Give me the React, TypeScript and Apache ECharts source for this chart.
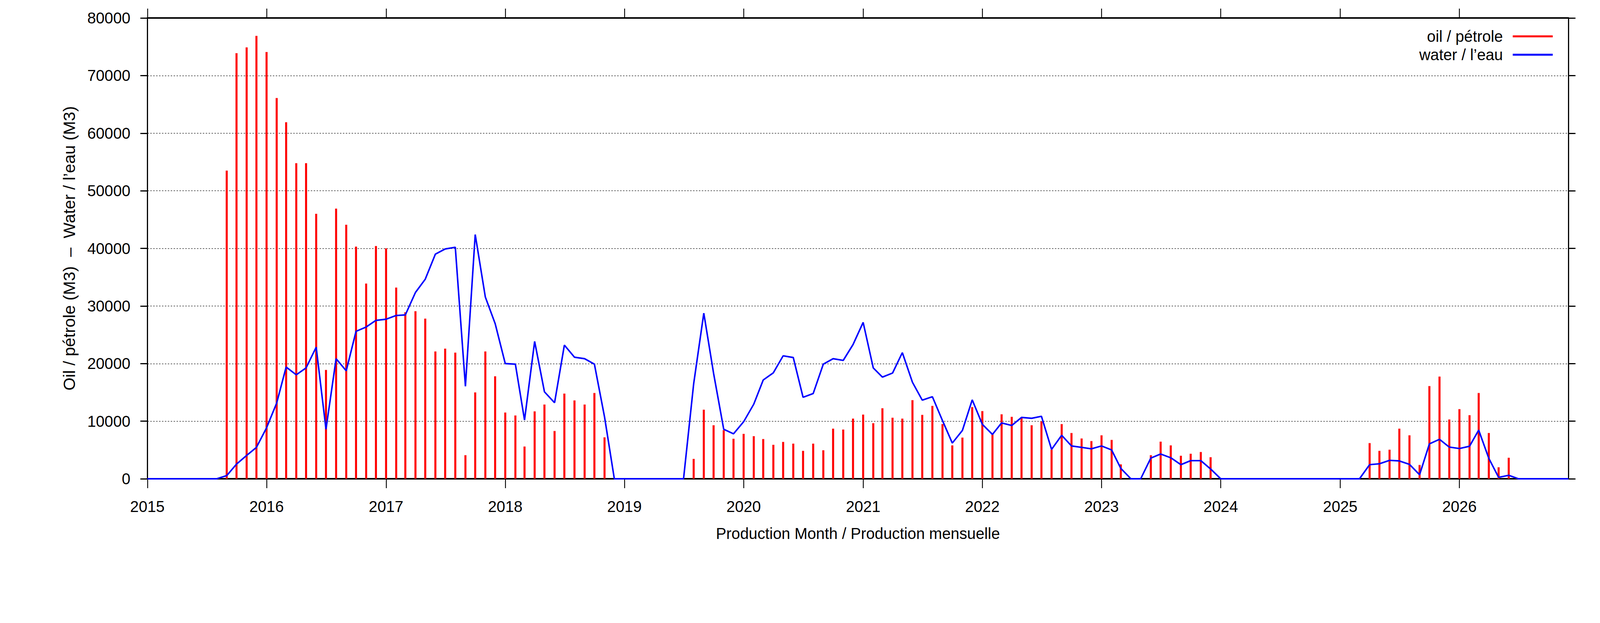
import React, { useEffect, useRef } from "react";
import * as echarts from "echarts";

// ---- Data ----
const START_YEAR = 2015;
const yearTicks = [2015, 2016, 2017, 2018, 2019, 2020, 2021, 2022, 2023, 2024, 2025, 2026];

// Monthly oil production (M3), Jan..Dec
const oil2015 = [0, 0, 0, 0, 0, 0, 0, 0, 53500, 73900, 74900, 76900];
const oil2016 = [74100, 66100, 61900, 54800, 54800, 46000, 18900, 46900, 44100, 40300, 33900, 40400];
const oil2017 = [40000, 33200, 28900, 29100, 27800, 22100, 22600, 21900, 4100, 15000, 22100, 17800];
const oil2018 = [11500, 11000, 5600, 11700, 12900, 8300, 14800, 13600, 12900, 14900, 7200, 0];
const oil2019 = [0, 0, 0, 0, 0, 0, 0, 3450, 12000, 9300, 8450, 6950];
const oil2020 = [7800, 7400, 6900, 5900, 6400, 6100, 4850, 6100, 4950, 8700, 8550, 10450];
const oil2021 = [11150, 9650, 12250, 10600, 10450, 13650, 11100, 12650, 9500, 5800, 7150, 12450];
const oil2022 = [11750, 7700, 11200, 10750, 10700, 9300, 9950, 5050, 9500, 7950, 7000, 6550];
const oil2023 = [7550, 6750, 2500, 0, 0, 4100, 6450, 5800, 4000, 4350, 4650, 3750];
const oil2024 = [0, 0, 0, 0, 0, 0, 0, 0, 0, 0, 0, 0];
const oil2025 = [0, 0, 0, 6200, 4850, 5050, 8700, 7550, 2400, 16100, 17750, 10300];
const oil2026 = [12100, 11050, 14900, 7950, 2000, 3650, 0, 0, 0, 0, 0, 0];

// Monthly water production (M3), Jan..Dec
const water2015 = [0, 0, 0, 0, 0, 0, 0, 0, 550, 2550, 4050, 5450];
const water2016 = [8850, 13150, 19400, 18050, 19250, 22850, 8600, 20850, 18750, 25600, 26350, 27500];
const water2017 = [27700, 28350, 28450, 32350, 34650, 39000, 39900, 40200, 16050, 42400, 31550, 26950];
const water2018 = [20000, 19900, 10200, 23850, 15100, 13200, 23200, 21100, 20850, 19900, 10750, 0];
const water2019 = [0, 0, 0, 0, 0, 0, 0, 16500, 28750, 18300, 8600, 7800];
const water2020 = [9900, 12950, 17150, 18400, 21350, 21050, 14150, 14800, 19900, 20850, 20550, 23300];
const water2021 = [27150, 19250, 17650, 18350, 21900, 16750, 13650, 14250, 10100, 6200, 8400, 13700];
const water2022 = [9450, 7700, 9700, 9250, 10650, 10500, 10850, 5100, 7550, 5700, 5450, 5200];
const water2023 = [5700, 5000, 1800, 0, 0, 3600, 4300, 3650, 2450, 3150, 3150, 1700];
const water2024 = [0, 0, 0, 0, 0, 0, 0, 0, 0, 0, 0, 0];
const water2025 = [0, 0, 0, 2450, 2600, 3200, 3100, 2500, 700, 6050, 6850, 5500];
const water2026 = [5250, 5650, 8450, 3550, 250, 600, 0, 0, 0, 0, 0, 0];

const oilValues = [
  ...oil2015, ...oil2016, ...oil2017, ...oil2018, ...oil2019, ...oil2020,
  ...oil2021, ...oil2022, ...oil2023, ...oil2024, ...oil2025, ...oil2026,
];
const waterValues = [
  ...water2015, ...water2016, ...water2017, ...water2018, ...water2019, ...water2020,
  ...water2021, ...water2022, ...water2023, ...water2024, ...water2025, ...water2026,
];

const oilName = "oil / pétrole";
const waterName = "water / l’eau";
const xTitle = "Production Month / Production mensuelle";
const yTitle = "Oil / pétrole (M3)  –  Water / l’eau (M3)";

const FONT = "'Liberation Sans', Arial, Helvetica, sans-serif";
const DESIGN_WIDTH = 5483;
const DESIGN_HEIGHT = 1594;

export default function App() {
  const ref = useRef<HTMLDivElement>(null);

  useEffect(() => {
    if (!ref.current) return;
    const el = ref.current;
    const chart = echarts.init(el, null, { renderer: "svg" });
    const sx = (el.clientWidth || window.innerWidth) / DESIGN_WIDTH;
    const sy = (el.clientHeight || window.innerHeight) / DESIGN_HEIGHT;
    const px = (v: number) => v * sx;
    const py = (v: number) => v * sy;
    const fs = 46 * Math.sqrt(sx * sy);
    const fsY = 46 * Math.sqrt(sy * Math.sqrt(sx * sy));

    const monthTimes = oilValues.map((_, i) =>
      Date.UTC(START_YEAR + Math.floor(i / 12), i % 12, 1)
    );
    const oilData = monthTimes
      .map((t, i) => [t, oilValues[i]])
      .filter((d) => d[1] > 0);
    const waterData = monthTimes.map((t, i) => [t, waterValues[i]]);
    const yearTimes = yearTicks.map((y) => Date.UTC(y, 0, 1));
    const xMin = Date.UTC(2015, 0, 1);
    const xMax = Date.UTC(2026, 11, 1);

    const xAxisLine = { show: true, onZero: false, lineStyle: { color: "#000", width: py(4) } };
    const yAxisLine = { show: true, onZero: false, lineStyle: { color: "#000", width: px(4) } };
    const xTick = { show: true, length: py(24), lineStyle: { color: "#000", width: px(3) }, customValues: yearTimes };
    const yTick = { show: true, length: px(24), lineStyle: { color: "#000", width: py(3) } };

    chart.setOption({
      animation: false,
      backgroundColor: "#ffffff",
      textStyle: { fontFamily: FONT },
      grid: { left: px(505), right: px(108), top: py(46), bottom: py(369), containLabel: false },
      legend: {
        orient: "vertical",
        align: "right",
        right: px(162),
        top: py(93) - py(47) / 2,
        padding: 0,
        itemGap: 0,
        itemWidth: px(137),
        itemHeight: py(5),
        textStyle: {
          fontSize: fs,
          lineHeight: py(47),
          color: "#000",
          fontFamily: FONT,
          padding: [0, px(27), 0, 0],
        },
        data: [
          { name: oilName, icon: "rect" },
          { name: waterName, icon: "rect" },
        ],
      },
      xAxis: [
        {
          type: "value",
          position: "bottom",
          min: xMin,
          max: xMax,
          name: xTitle,
          nameLocation: "middle",
          nameGap: py(1365 - 1225) - fs / 2,
          nameTextStyle: { fontSize: fs, color: "#000", fontFamily: FONT },
          axisLine: xAxisLine,
          axisTick: xTick,
          axisLabel: {
            customValues: yearTimes,
            formatter: (v: number) => String(new Date(v).getUTCFullYear()),
            fontSize: fs,
            color: "#000",
            margin: py(1296 - 1225) - fs / 2,
            fontFamily: FONT,
          },
          splitLine: { show: false },
        },
        {
          type: "value",
          position: "top",
          min: xMin,
          max: xMax,
          axisLine: xAxisLine,
          axisTick: xTick,
          axisLabel: { show: false, customValues: yearTimes },
          splitLine: { show: false },
        },
      ],
      yAxis: [
        {
          type: "value",
          position: "left",
          min: 0,
          max: 80000,
          interval: 10000,
          name: yTitle,
          nameLocation: "middle",
          nameRotate: 90,
          nameGap: px(505 - 237) - fsY / 2,
          nameTextStyle: { fontSize: fsY, color: "#000", fontFamily: FONT },
          axisLine: yAxisLine,
          axisTick: yTick,
          axisLabel: {
            formatter: (v: number) => String(v),
            fontSize: fs,
            color: "#000",
            margin: px(58),
            fontFamily: FONT,
          },
          splitLine: {
            show: true,
            lineStyle: { color: "#333", width: py(1.5), type: [px(5), px(5)] },
          },
        },
        {
          type: "value",
          position: "right",
          min: 0,
          max: 80000,
          interval: 10000,
          axisLine: yAxisLine,
          axisTick: yTick,
          axisLabel: { show: false },
          splitLine: { show: false },
        },
      ],
      series: [
        {
          name: oilName,
          type: "bar",
          xAxisIndex: 0,
          yAxisIndex: 0,
          data: oilData,
          barWidth: px(7),
          itemStyle: { color: "#ff0000" },
        },
        {
          name: waterName,
          type: "line",
          xAxisIndex: 0,
          yAxisIndex: 0,
          data: waterData,
          symbol: "none",
          showSymbol: false,
          lineStyle: { color: "#0000ff", width: 4.5 * Math.sqrt(sx * sy) },
          itemStyle: { color: "#0000ff" },
        },
      ],
    });

    return () => chart.dispose();
  }, []);

  return (
    <div
      ref={ref}
      style={{
        position: "fixed",
        left: 0,
        top: 0,
        width: "100vw",
        height: "100vh",
        background: "#fff",
      }}
    />
  );
}
